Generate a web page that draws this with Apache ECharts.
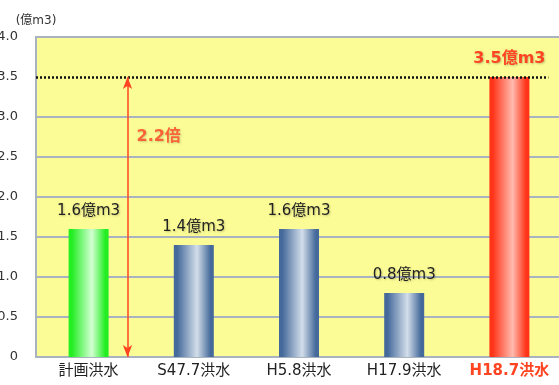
<!DOCTYPE html>
<html>
<head>
<meta charset="utf-8">
<style>
  html, body { margin: 0; padding: 0; background: #ffffff; }
  #chart { width: 559px; height: 385px; }
</style>
<script src="https://cdn.jsdelivr.net/npm/echarts@6/dist/echarts.min.js"></script>
</head>
<body>
<div id="chart"></div>
<script>
// Flood volumes (億m3) by event
const categories = ['計画洪水', 'S47.7洪水', 'H5.8洪水', 'H17.9洪水', 'H18.7洪水'];
const volumes = [1.6, 1.4, 1.6, 0.8, 3.5];
const yTicks = [0, 0.5, 1.0, 1.5, 2.0, 2.5, 3.0, 3.5, 4.0];
const unitLabel = '(億m3)';
const planIndex = 0;   // 計画洪水
const peakIndex = 4;   // H18.7洪水

const FONT = '"DejaVu Sans", "Noto Sans CJK JP", sans-serif';
const GRID_COLOR = '#A9B3BF';
const RED = '#FF4422';

function barGradient(edge, mid) {
  return new echarts.graphic.LinearGradient(0, 0, 1, 0, [
    { offset: 0, color: edge },
    { offset: 0.08, color: edge },
    { offset: 0.58, color: mid },
    { offset: 0.92, color: edge },
    { offset: 1, color: edge }
  ]);
}

const styles = [
  barGradient('#22EE22', '#D2FFD2'),
  barGradient('#44699A', '#D3DEEA'),
  barGradient('#44699A', '#D3DEEA'),
  barGradient('#44699A', '#D3DEEA'),
  barGradient('#FF3318', '#FFBBAE')
];

const peak = volumes[peakIndex];
const ratio = (peak / volumes[planIndex]).toFixed(1);

const labelShadow = {
  textShadowColor: 'rgba(0,0,0,0.22)',
  textShadowBlur: 2,
  textShadowOffsetX: 1,
  textShadowOffsetY: 1
};

const barData = volumes.map((v, i) => ({
  value: v,
  itemStyle: { color: styles[i] },
  label: i === peakIndex
    ? Object.assign({ color: RED, fontWeight: 'bold', fontSize: 16 }, labelShadow)
    : undefined
}));

// split line colours: hide the grey line where the dotted reference line sits
const splitColors = yTicks.map(t => (t === peak ? 'rgba(0,0,0,0)' : GRID_COLOR));

const chart = echarts.init(document.getElementById('chart'), null, { renderer: 'canvas' });

chart.setOption({
  backgroundColor: '#ffffff',
  animation: false,
  textStyle: { fontFamily: FONT },
  grid: {
    left: 36, right: -3, top: 37, bottom: 28,
    outerBoundsMode: 'none',
    containLabel: false,
    show: true,
    backgroundColor: '#FCFC96',
    borderColor: GRID_COLOR,
    borderWidth: 2
  },
  xAxis: [
    {
      type: 'category',
      data: categories,
      axisLine: { lineStyle: { color: GRID_COLOR, width: 2 } },
      axisTick: { show: false },
      axisLabel: {
        interval: 0,
        hideOverlap: false,
        margin: 7,
        fontSize: 15,
        color: '#222',
        fontFamily: FONT,
        formatter: (v, i) => (i === peakIndex ? '{peak|' + v + '}' : v),
        rich: {
          peak: { color: RED, fontWeight: 'bold', fontSize: 15, fontFamily: FONT }
        }
      }
    },
    {
      // helper axis sharing the category bands, for annotations between bars
      type: 'value',
      min: -0.5,
      max: categories.length - 0.5,
      show: false,
      splitLine: { show: false },
      position: 'bottom'
    }
  ],
  yAxis: {
    type: 'value',
    min: 0,
    max: 4,
    interval: 0.5,
    name: unitLabel,
    nameLocation: 'end',
    nameGap: 10,
    nameTextStyle: { fontSize: 12, color: '#333', align: 'center', fontFamily: FONT },
    axisLine: { show: true, onZero: false, lineStyle: { color: GRID_COLOR, width: 2 } },
    axisTick: { show: false },
    axisLabel: {
      margin: 18,
      fontSize: 13,
      color: '#333',
      fontFamily: FONT,
      formatter: (v) => (v === 0 ? '0' : v.toFixed(1))
    },
    splitLine: { lineStyle: { color: splitColors, width: 2 } }
  },
  series: [
    {
      type: 'bar',
      xAxisIndex: 0,
      barWidth: 40,
      data: barData,
      label: Object.assign({
        show: true,
        position: 'top',
        distance: 10,
        fontSize: 15,
        color: '#222',
        fontFamily: FONT,
        formatter: (p) => p.value.toFixed(1) + '億m3'
      }, labelShadow),
      z: 3
    },
    {
      type: 'scatter',
      xAxisIndex: 1,
      symbolSize: 0,
      data: [[planIndex + 0.37, 2.75]],
      label: Object.assign({
        show: true,
        position: 'right',
        distance: 9,
        formatter: ratio + '倍',
        color: RED,
        fontWeight: 'bold',
        fontSize: 16,
        fontFamily: FONT
      }, labelShadow),
      markLine: {
        silent: true,
        animation: false,
        label: { show: false },
        data: [
          // dotted reference line at the peak volume
          [
            { coord: [-0.5, peak], symbol: 'none', lineStyle: { color: '#111', type: [2, 2], width: 2.5 } },
            { coord: [4.37, peak], symbol: 'none' }
          ],
          // double-headed arrow from zero up to the peak
          [
            { coord: [planIndex + 0.37, 0], symbol: 'arrow', symbolSize: [7, 12], lineStyle: { color: RED, type: 'solid', width: 1.5 } },
            { coord: [planIndex + 0.37, peak], symbol: 'arrow', symbolSize: [7, 12] }
          ]
        ]
      },
      z: 5
    }
  ]
});
</script>
</body>
</html>
